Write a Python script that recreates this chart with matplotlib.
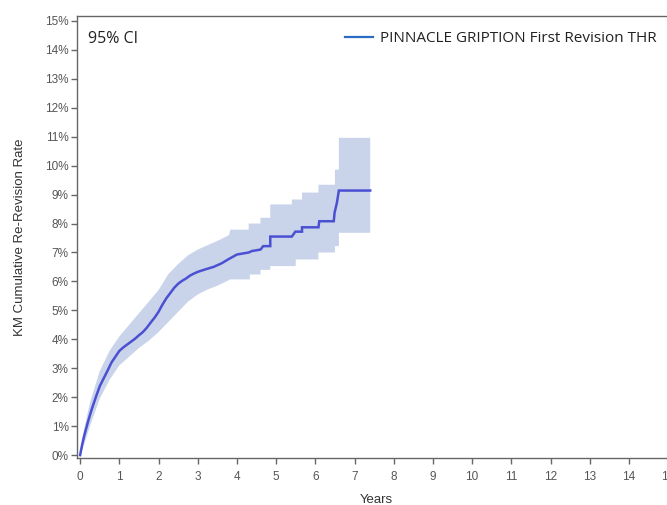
import matplotlib
matplotlib.use("Agg")
import matplotlib.pyplot as plt
from matplotlib.lines import Line2D
from matplotlib.ticker import FuncFormatter

# Kaplan-Meier estimate (years, cumulative re-revision %); later part as step corners
years = [0.0, 0.05, 0.1, 0.15, 0.2, 0.25, 0.3, 0.4, 0.5, 0.6, 0.7, 0.8, 0.9, 1.0,
         1.1, 1.2, 1.3, 1.4, 1.5, 1.6, 1.7, 1.8, 1.9, 2.0, 2.1, 2.2, 2.3, 2.4, 2.5,
         2.6, 2.7, 2.8, 2.9, 3.0, 3.2, 3.4, 3.6, 3.8, 4.0, 4.3, 4.38, 4.6, 4.67,
         4.85, 4.85, 5.4, 5.49, 5.66, 5.66, 6.08, 6.1, 6.47, 6.49, 6.55, 6.6, 7.4]
rate = [0.0, 0.35, 0.65, 0.9, 1.15, 1.38, 1.6, 2.0, 2.38, 2.65, 2.92, 3.2, 3.4, 3.6,
        3.72, 3.82, 3.92, 4.02, 4.14, 4.25, 4.4, 4.58, 4.75, 4.95, 5.2, 5.42, 5.6, 5.78, 5.92,
        6.02, 6.1, 6.2, 6.27, 6.33, 6.42, 6.5, 6.62, 6.78, 6.93, 7.0, 7.05, 7.1, 7.22,
        7.22, 7.55, 7.55, 7.72, 7.72, 7.87, 7.87, 8.08, 8.08, 8.37, 8.72, 9.14, 9.14]

# 95% confidence band
upper_years = [0.0, 0.1, 0.25, 0.5, 0.75, 1.0, 1.25, 1.5, 1.75, 2.0, 2.25, 2.5, 2.75,
               3.0, 3.25, 3.5, 3.8, 3.83, 4.3, 4.3, 4.6, 4.6, 4.85, 4.85, 5.4, 5.4,
               5.66, 5.66, 6.08, 6.08, 6.5, 6.5, 6.6, 6.6, 7.4]
ci_upper = [0.0, 0.9, 1.8, 2.9, 3.6, 4.1, 4.5, 4.9, 5.3, 5.7, 6.25, 6.6, 6.9,
            7.1, 7.25, 7.4, 7.6, 7.79, 7.79, 8.0, 8.0, 8.2, 8.2, 8.66, 8.66, 8.83,
            8.83, 9.07, 9.07, 9.34, 9.34, 9.86, 9.86, 10.96, 10.96]
lower_years = [0.0, 0.1, 0.25, 0.5, 0.75, 1.0, 1.25, 1.5, 1.75, 2.0, 2.25, 2.5, 2.75,
               3.0, 3.25, 3.5, 3.83, 4.33, 4.33, 4.6, 4.6, 4.85, 4.85, 5.5, 5.5,
               6.08, 6.08, 6.5, 6.5, 6.6, 6.6, 7.4]
ci_lower = [0.0, 0.35, 1.0, 1.95, 2.6, 3.1, 3.4, 3.7, 3.95, 4.25, 4.6, 4.95, 5.3,
            5.55, 5.72, 5.85, 6.07, 6.07, 6.24, 6.24, 6.4, 6.4, 6.53, 6.53, 6.76,
            6.76, 7.0, 7.0, 7.22, 7.22, 7.68, 7.68]

x_ticks = list(range(0, 16))
y_ticks = list(range(0, 16))
series_label = "PINNACLE GRIPTION First Revision THR"
ci_label = "95% CI"

plt.rcParams['font.family'] = ['Liberation Sans', 'DejaVu Sans']

fig = plt.figure(figsize=(6.67, 5.05), dpi=100)
ax = fig.add_axes([77 / 667, 1 - 458 / 505, 599 / 667, (458 - 16) / 505])

band_x = upper_years + lower_years[::-1]
band_y = ci_upper + ci_lower[::-1]
ax.fill(band_x, band_y, color='#c9d4ea', linewidth=0, zorder=1)
ax.plot(years, rate, color='#4b50d2', linewidth=1.8, zorder=2,
        solid_joinstyle='miter')

ax.set_xlim(-0.08, 15.2)
ax.set_ylim(-0.1, 15.17)
ax.set_xticks(x_ticks)
ax.set_yticks(y_ticks)
ax.yaxis.set_major_formatter(FuncFormatter(lambda v, p: f"{int(v)}%"))

for s in ['left', 'bottom', 'top', 'right']:
    ax.spines[s].set_color('#666666')
    ax.spines[s].set_linewidth(1.0)

ax.tick_params(axis='both', direction='out', length=4, width=1.0,
               color='#666666', labelcolor='#555555', labelsize=8.5)
ax.tick_params(axis='x', pad=5)
ax.tick_params(axis='y', pad=2)

ax.set_ylabel("KM Cumulative Re-Revision Rate", fontsize=9.5, color='#333333', labelpad=14)
ax.set_xlabel("Years", fontsize=9.5, color='#333333', labelpad=8)

ax.text(0.018, 0.948, ci_label, transform=ax.transAxes, fontsize=11.5,
        family=['Open Sans', 'DejaVu Sans'], color='#222222', va='center', ha='left')

handle = Line2D([0], [0], color='#2a6cc4', linewidth=1.6)
leg = ax.legend([handle], [series_label], loc='center right',
                bbox_to_anchor=(0.968, 0.948), frameon=False,
                prop={'family': 'Open Sans', 'size': 11},
                handlelength=1.8, handletextpad=0.5, borderpad=0.0,
                borderaxespad=0.0)
for t in leg.get_texts():
    t.set_color('#222222')

fig.savefig("out.png", dpi=100)
